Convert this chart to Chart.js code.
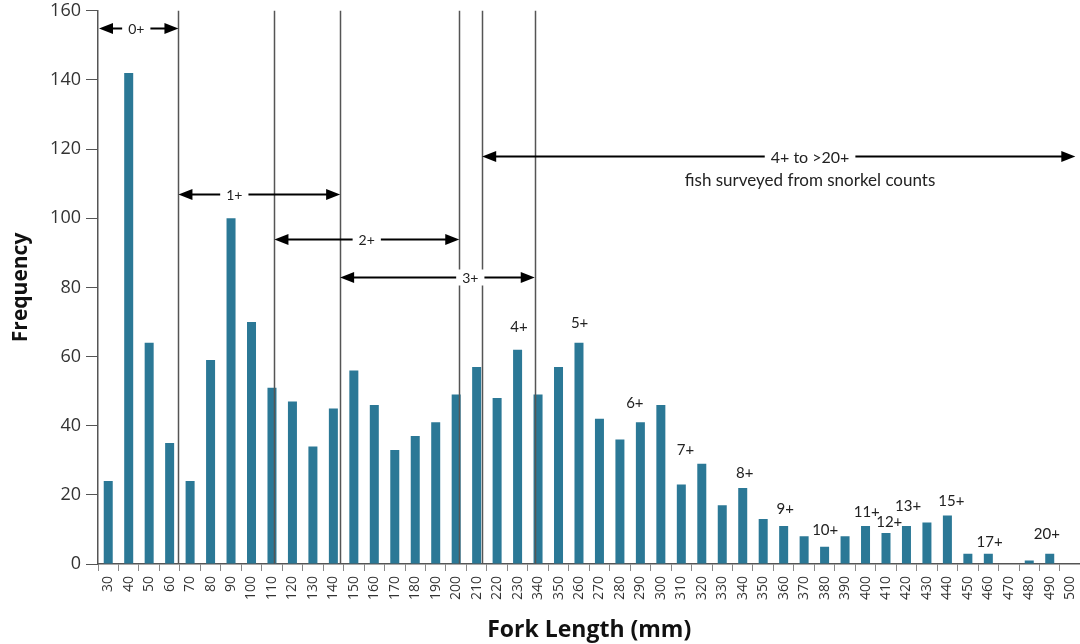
<!DOCTYPE html>
<html>
<head>
<meta charset="utf-8">
<script src="https://cdn.jsdelivr.net/npm/chart.js@4.4.0/dist/chart.umd.min.js"></script>
<style>
html, body { margin: 0; padding: 0; background: #fff; overflow: hidden; }
#chart { display: block; margin-top: -5px; }
</style>
</head>
<body>
<!-- the original figure is cropped on the right and top, so the canvas runs a little past the window -->
<canvas id="chart" width="1092" height="649"></canvas>
<script>
// fork length classes (labels as printed, incl. 340/350 after 230)
const lengthLabels = ['30','40','50','60','70','80','90','100','110','120','130','140','150','160','170','180','190','200','210','220','230',
  '340','350','260','270','280','290','300','310','320','330','340','350','360','370','380','390','400','410','420','430','440','450','460','470','480','490','500'];
const frequency = [24,142,64,35,24,59,100,70,51,47,34,45,56,46,33,37,41,49,57,48,62,
  49,57,64,42,36,41,46,23,29,17,22,13,11,8,5,8,11,9,11,12,14,3,3,0,1,3,0];

// age class boundaries, in position along the length axis (mm)
const ageBounds = [64.3, 111.2, 143.3, 201.5, 212.7, 238.4];

// age range arrows: [text, from mm, to mm, frequency level, label mm]
const ageRanges = [
  ['0+', 25.5, 64.3, 155, 43.7],
  ['1+', 64.3, 143.3, 107, 91.6],
  ['2+', 111.2, 201.5, 94, 156.3],
  ['3+', 143.3, 238.4, 83, 206.9],
  ['4+ to >20+', 212.7, 502.5, 118, 372.9]
];

// age tags above bars: text, mm, frequency level
const ageTags = ['4+','5+','6+','7+','8+','9+','10+','11+','12+','13+','15+','17+','20+'];
const ageTagMm = [230.7, 260.3, 287.3, 312, 341, 360.8, 380.3, 400.6, 411.6, 420.8, 441.9, 460.6, 488.6];
const ageTagY = [68.6, 69.6, 46.5, 33, 26.4, 15.8, 9.8, 15, 12.2, 16.8, 18.2, 6.2, 8.7];

const FONT = '"Open Sans", Lato, sans-serif';
const NOTE_FONT = 'Lato, "Open Sans", sans-serif';

function xAt(scale, mm) {
    const p0 = scale.getPixelForValue(0);
    const p1 = scale.getPixelForValue(1);
    return p0 + (mm - 30) / 10 * (p1 - p0);
}

function arrowHead(ctx, x, y, dir) {
    ctx.beginPath();
    ctx.moveTo(x, y);
    ctx.lineTo(x - dir * 14, y - 5.5);
    ctx.lineTo(x - dir * 14, y + 5.5);
    ctx.closePath();
    ctx.fill();
}

const ageMarks = {
    id: 'ageMarks',
    afterDatasetsDraw(chart) {
        const ctx = chart.ctx;
        const xs = chart.scales.x, ys = chart.scales.y;
        const top = chart.chartArea.top, bottom = chart.chartArea.bottom;
        ctx.save();

        // vertical boundary lines
        ctx.strokeStyle = '#555';
        ctx.lineWidth = 1.5;
        ageBounds.forEach(mm => {
            const x = Math.round(xAt(xs, mm)) + 0.5;
            ctx.beginPath();
            ctx.moveTo(x, top);
            ctx.lineTo(x, bottom);
            ctx.stroke();
        });

        // range arrows
        ctx.textAlign = 'center';
        ctx.textBaseline = 'middle';
        ageRanges.forEach((r, i) => {
            const big = i === ageRanges.length - 1;
            ctx.font = (big ? 16 : 14) + 'px ' + NOTE_FONT;
            const x1 = xAt(xs, r[1]), x2 = xAt(xs, r[2]);
            const y = Math.round(ys.getPixelForValue(r[3])) + 0.5;
            const lx = xAt(xs, r[4]);
            ctx.strokeStyle = '#000';
            ctx.fillStyle = '#000';
            ctx.lineWidth = 2;
            ctx.beginPath();
            ctx.moveTo(x1 + 6, y);
            ctx.lineTo(x2 - 6, y);
            ctx.stroke();
            arrowHead(ctx, x1, y, -1);
            arrowHead(ctx, x2, y, 1);
            const w = ctx.measureText(r[0]).width + 12;
            ctx.fillStyle = '#fff';
            ctx.fillRect(lx - w / 2, y - 8, w, 16);
            ctx.fillStyle = '#222';
            ctx.fillText(r[0], lx, y + 1);
        });
        const last = ageRanges[ageRanges.length - 1];
        ctx.font = '17px ' + NOTE_FONT;
        ctx.fillText('fish surveyed from snorkel counts', xAt(xs, last[4]), ys.getPixelForValue(last[3]) + 25);

        // age tags above bars
        ctx.font = '15px ' + NOTE_FONT;
        ageTags.forEach((t, i) => {
            ctx.fillText(t, xAt(xs, ageTagMm[i]), ys.getPixelForValue(ageTagY[i]));
        });
        ctx.restore();
    }
};

new Chart(document.getElementById('chart'), {
    type: 'bar',
    data: {
        labels: lengthLabels,
        datasets: [{
            data: frequency,
            backgroundColor: '#2b7896',
            categoryPercentage: 1,
            barPercentage: 0.44
        }]
    },
    options: {
        responsive: false,
        animation: false,
        devicePixelRatio: 1,
        layout: { padding: { top: 0, right: 0, left: 0, bottom: 0 } },
        plugins: { legend: { display: false }, tooltip: { enabled: false } },
        scales: {
            x: {
                grid: { drawOnChartArea: false, color: '#888', tickLength: 7 },
                border: { color: '#555', width: 1.5 },
                ticks: { autoSkip: false, minRotation: 90, maxRotation: 90, color: '#333', font: { family: FONT, size: 14 }, padding: 5 },
                title: { display: true, text: 'Fork Length (mm)', color: '#111', font: { family: FONT, size: 23, weight: 'bold' }, padding: { top: 4, bottom: 0 } },
                afterFit(scale) { scale.height = 80; }
            },
            y: {
                min: 0,
                max: 160,
                grid: { drawOnChartArea: false, color: '#555', tickLength: 12 },
                border: { color: '#555', width: 1.5 },
                ticks: { stepSize: 20, color: '#333', font: { family: FONT, size: 18 }, padding: 5 },
                title: { display: true, text: 'Frequency', color: '#111', font: { family: FONT, size: 21, weight: 'bold' }, padding: { top: 8, bottom: 0 } },
                afterFit(scale) { scale.width = 98; }
            }
        }
    },
    plugins: [ageMarks]
});
</script>
</body>
</html>
